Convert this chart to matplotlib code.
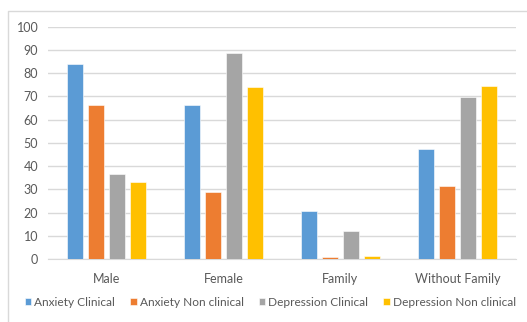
import matplotlib.pyplot as plt
import numpy as np
from matplotlib.lines import Line2D

plt.rcParams['font.family'] = ['Lato', 'DejaVu Sans']

categories = ['Male', 'Female', 'Family', 'Without Family']
series_names = ['Anxiety Clinical', 'Anxiety Non clinical',
                'Depression Clinical', 'Depression Non clinical']
anxiety_clinical = [84, 66.2, 20.6, 47.5]
anxiety_non_clinical = [66.5, 28.7, 0.7, 31.5]
depression_clinical = [36.6, 88.6, 12.1, 69.8]
depression_non_clinical = [33, 74, 1.3, 74.6]
yticks = list(range(0, 101, 10))

colors = ['#5B9BD5', '#ED7D31', '#A5A5A5', '#FFC000']
series = [anxiety_clinical, anxiety_non_clinical,
          depression_clinical, depression_non_clinical]

fig = plt.figure(figsize=(5.27, 3.22), dpi=100)
ax = fig.add_axes([0.0911, 0.1957, 0.888, 0.7213])

# chart frame: only the left and top edges fall inside the image
fx, fy = 7.5 / 527, 1 - 10.5 / 322
fig.add_artist(Line2D([fx, fx, 1.0], [0, fy, fy], transform=fig.transFigure,
                      color='#D9D9D9', linewidth=1))

x = np.arange(len(categories))
step = 0.18
width = 0.14
for i, (vals, name, c) in enumerate(zip(series, series_names, colors)):
    ax.bar(x + (i - 1.5) * step, vals, width, color=c, label=name,
           edgecolor='white', linewidth=0.4, zorder=3)

ax.set_xlim(-0.5, len(categories) - 0.5)
ax.set_ylim(0, 100)
ax.set_yticks(yticks)
ax.set_xticks(x)
ax.set_xticklabels(categories)
ax.yaxis.grid(True, color='#D9D9D9', linewidth=1, zorder=0)
for s in ['top', 'right', 'left']:
    ax.spines[s].set_visible(False)
ax.spines['bottom'].set_color('#D9D9D9')
ax.tick_params(axis='both', length=0, labelsize=9, colors='#595959')
ax.tick_params(axis='y', pad=7)
ax.tick_params(axis='x', pad=10)

fig.legend(loc='center', bbox_to_anchor=(0.513, 1 - 302 / 322), ncol=4,
           frameon=False, fontsize=8.6, handlelength=0.55, handleheight=0.55,
           handletextpad=0.25, columnspacing=1.25, labelcolor='#595959')

fig.savefig('out.png', dpi=100)
